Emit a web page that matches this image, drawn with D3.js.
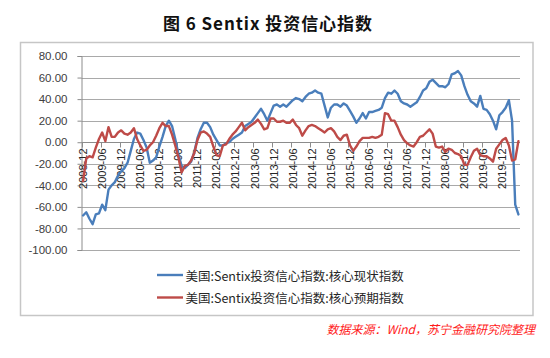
<!DOCTYPE html>
<html>
<head>
<meta charset="utf-8">
<script src="https://cdn.jsdelivr.net/npm/d3@7/dist/d3.min.js"></script>
<style>
  html, body { margin: 0; padding: 0; background: #fff; }
  svg { display: block; }
</style>
</head>
<body>
<svg id="chart" width="550" height="358"></svg>
<script>
// ---------- DATA ----------
const startMonth = "2008-12";
const monthCount = 138; // 2008-12 .. 2020-05
const categories = d3.timeMonth.range(new Date(2008, 11, 1), new Date(2020, 5, 1))
  .map(d3.timeFormat("%Y-%m"));

// 美国:Sentix投资信心指数:核心现状指数
const currentIndex = [
  -68, -65, -71, -76, -67, -66, -58, -63, -44, -40,
  -37, -31, -27, -24, -19, -8, 3, 9, 8, 2,
  -5, -19, -17, -14, -4, 5, 15, 20, 15, 3,
  -11, -22, -24, -21, -18, -9, 4, 12, 18, 18,
  14, 7, 2, -3, -3, -1, 0, 3, 5, 7,
  9, 15, 17, 19, 23, 27, 31, 26, 20, 27,
  34, 35, 33, 35, 33, 36, 39, 41, 40, 38,
  42, 45, 46, 48, 46, 45, 34, 23, 32, 35,
  35, 33, 36, 34, 29, 24, 18, 22, 27, 22,
  28, 28, 29, 30, 32, 41, 46, 45, 48, 45,
  38, 36, 35, 33, 35, 37, 42, 48, 50, 56,
  58, 55, 52, 52, 51, 54, 63, 64, 66, 62,
  52, 44, 38, 36, 33, 43, 31, 30, 26, 20,
  12, 25, 28, 32, 39, 20, -58, -67
];

// 美国:Sentix投资信心指数:核心预期指数
const expectIndex = [
  -36, -15, -13, -14, -5, 3, 9, 1, 14, 5,
  5, 9, 11, 8, 7, 9, 13, 3, -3, -8,
  -7, -3, 0, 6, 13, 18, 15, 15, 7, -3,
  -14, -28, -22, -21, -17, -10, 2, 9, 10, 8,
  5, -4, -12, -13, -3, -2, 3, 7, 10, 14,
  18, 11, 14, 16, 18, 21, 17, 12, 13, 22,
  22, 19, 19, 20, 18, 18, 21, 16, 13, 6,
  11, 15, 16, 15, 13, 11, 9, 12, 13, 10,
  5, 2, 6, 7, -3, -8, -4, 1, 4, 4,
  4, 5, 4, 5, 7, 27, 26, 20, 20, 14,
  7, 2, -1, -3, -4, 0, 5, 6, 9, 12,
  8, -4, -5, -4, -9, -6, -7, -10, -11, -13,
  -21, -21, -14, -8, -6, -12, -13, -13, -15, -18,
  -6, -2, 2, 4, -3, -17, -16, 1
];

const yTicks = [80, 60, 40, 20, 0, -20, -40, -60, -80, -100];
const xTickLabels = categories.filter((c, i) => i % 6 === 0);

const seriesNames = ["美国:Sentix投资信心指数:核心现状指数", "美国:Sentix投资信心指数:核心预期指数"];
const seriesColors = ["#4a7ebb", "#be4b48"];
const titleText = "图 6 Sentix 投资信心指数";
const sourceText = "数据来源：Wind，苏宁金融研究院整理";

// ---------- DRAW ----------
const svg = d3.select("#chart");
const plotL = 81.5, plotR = 520, plotT = 56, plotB = 250;

const x = d3.scaleBand().domain(categories).range([plotL, plotR]).padding(0);
const y = d3.scaleLinear().domain([-100, 80]).range([plotB, plotT]);
const cx = d => x(d) + x.bandwidth() / 2;

// outer border
svg.append("rect").attr("x", 20.5).attr("y", 42.5).attr("width", 512.5).attr("height", 273)
  .attr("fill", "none").attr("stroke", "#c6c6c6").attr("stroke-width", 1.5);

// title
svg.append("text").attr("x", 267.5).attr("y", 22.5)
  .attr("text-anchor", "middle").attr("dominant-baseline", "central")
  .attr("font-family", "'Noto Sans CJK SC', sans-serif").attr("font-weight", "bold")
  .attr("font-size", 17).attr("fill", "#111")
  .attr("textLength", 209).attr("lengthAdjust", "spacing")
  .text(titleText);

// gridlines
svg.append("g").selectAll("line").data(yTicks).join("line")
  .attr("x1", plotL).attr("x2", plotR)
  .attr("y1", d => Math.round(y(d)) + 0.5).attr("y2", d => Math.round(y(d)) + 0.5)
  .attr("stroke", "#a9a9a9").attr("stroke-width", 1);

// y axis
const yAxis = d3.axisLeft(y).tickValues(yTicks).tickSize(4).tickPadding(10)
  .tickFormat(d => d.toFixed(2));
const gy = svg.append("g").attr("transform", `translate(${plotL},0)`).call(yAxis);
gy.select(".domain").attr("stroke", "#8c8c8c");
gy.selectAll(".tick line").attr("stroke", "#8c8c8c");
gy.selectAll(".tick text").attr("font-family", "'Liberation Sans', Arial, sans-serif")
  .attr("font-size", 11.5).attr("fill", "#404040");

// x axis at 0
const y0 = Math.round(y(0)) + 0.5;
const gx = svg.append("g");
gx.append("line").attr("x1", plotL).attr("x2", plotR).attr("y1", y0).attr("y2", y0)
  .attr("stroke", "#8c8c8c");
gx.selectAll("line.tk").data(xTickLabels).join("line").attr("class", "tk")
  .attr("x1", d => Math.round(x(d)) + 0.5).attr("x2", d => Math.round(x(d)) + 0.5)
  .attr("y1", y0).attr("y2", y0 + 5).attr("stroke", "#8c8c8c");
gx.selectAll("text").data(xTickLabels).join("text")
  .attr("transform", d => `translate(${cx(d)},${y0 + 6}) rotate(-90)`)
  .attr("text-anchor", "end").attr("dy", "0.35em")
  .attr("font-family", "'Liberation Sans', Arial, sans-serif")
  .attr("font-size", 11).attr("fill", "#262626")
  .text(d => d);

// lines
const line = d3.line().x((d, i) => cx(categories[i])).y(d => y(d));
[currentIndex, expectIndex].forEach((s, k) => {
  svg.append("path").datum(s).attr("d", line)
    .attr("fill", "none").attr("stroke", seriesColors[k])
    .attr("stroke-width", 2.4).attr("stroke-linejoin", "round").attr("stroke-linecap", "round");
});

// legend
const legY = [275, 297.5];
seriesNames.forEach((n, k) => {
  svg.append("line").attr("x1", 157).attr("x2", 183).attr("y1", legY[k]).attr("y2", legY[k])
    .attr("stroke", seriesColors[k]).attr("stroke-width", 2.4);
  svg.append("text").attr("x", 185.5).attr("y", legY[k])
    .attr("dominant-baseline", "central")
    .attr("font-family", "'Noto Sans CJK SC', sans-serif").attr("font-size", 12.5)
    .attr("fill", "#262626").text(n);
});

// source
svg.append("text").attr("x", 535).attr("y", 328)
  .attr("text-anchor", "end").attr("dominant-baseline", "central")
  .attr("font-family", "'Noto Sans CJK SC', sans-serif").attr("font-size", 12)
  .attr("font-style", "italic").attr("fill", "#ff1a1a")
  .text(sourceText);
</script>
</body>
</html>
